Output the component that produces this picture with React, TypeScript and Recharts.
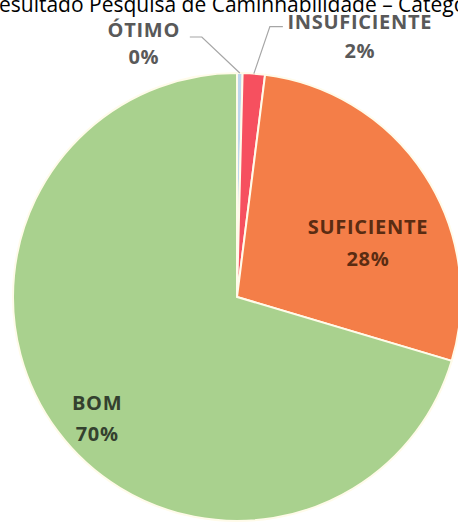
import React from 'react';
import { PieChart, Pie, Cell } from 'recharts';

// Survey result by category (share of answers, %)
const categories = ['ÓTIMO', 'INSUFICIENTE', 'SUFICIENTE', 'BOM'];
const shares = [0.4, 1.6, 27.6, 70.4];
const sliceColors = ['#BDD7EE', '#F6505F', '#F47E48', '#A9D18E'];

const title = 'Resultado Pesquisa de Caminhabilidade – Categoria';

const data = categories.map((name, i) => ({ name, value: shares[i] }));

const RAD = Math.PI / 180;
const FONT = '"Open Sans", sans-serif';

// label placement per slice: inside labels are polar tweaks, outside ones get a leader line
const labelLayout: any[] = [
  { inside: false, elbow: [-38, -36], run: -12, textDx: -46, lines: [0, 27], color: '#595959' },
  { inside: false, elbow: [16, -47], run: 13, textDx: 77, lines: [2, 31], color: '#595959' },
  { inside: true, shift: -10.3, radius: 0.634, lines: [-8, 24], color: '#5A2C12' },
  { inside: true, shift: 4.1, radius: 0.825, lines: [-8, 23], color: '#34412F' },
];

const renderLabel = (props: any) => {
  const { cx, cy, midAngle, outerRadius, percent, index, name } = props;
  const pct = `${Math.round(percent * 100)}%`;
  const l = labelLayout[index];
  const textProps = {
    textAnchor: 'middle' as const,
    fill: l.color,
    fontFamily: FONT,
    fontWeight: 700,
    fontSize: 20,
    letterSpacing: 0.7,
  };

  if (l.inside) {
    const a = (midAngle + l.shift) * RAD;
    const r = outerRadius * l.radius;
    const x = cx + r * Math.cos(-a);
    const y = cy + r * Math.sin(-a);
    return (
      <g>
        <text x={x} y={y + l.lines[0]} {...textProps}>{name}</text>
        <text x={x} y={y + l.lines[1]} {...textProps}>{pct}</text>
      </g>
    );
  }

  const ex = cx + outerRadius * Math.cos(-midAngle * RAD);
  const ey = cy + outerRadius * Math.sin(-midAngle * RAD);
  const bx = ex + l.elbow[0];
  const by = ey + l.elbow[1];
  const tx = bx + l.run;
  return (
    <g>
      <polyline
        points={`${ex},${ey} ${bx},${by} ${tx},${by}`}
        fill="none"
        stroke="#A6A6A6"
        strokeWidth={1.2}
      />
      <text x={tx + l.textDx} y={by + l.lines[0]} {...textProps}>{name}</text>
      <text x={tx + l.textDx} y={by + l.lines[1]} {...textProps}>{pct}</text>
    </g>
  );
};

export default function App() {
  return (
    <div
      style={{
        position: 'absolute',
        left: 0,
        top: 0,
        width: 458,
        height: 525,
        background: '#fff',
        overflow: 'hidden',
      }}
    >
      <PieChart width={458} height={525} margin={{ top: 0, right: 0, bottom: 0, left: 0 }}>
        <Pie
          data={data}
          dataKey="value"
          nameKey="name"
          cx={237}
          cy={297}
          outerRadius={224}
          startAngle={90}
          endAngle={-270}
          stroke="#FFFBEA"
          strokeWidth={2}
          label={renderLabel}
          labelLine={false}
          isAnimationActive={false}
        >
          {data.map((d, i) => (
            <Cell key={d.name} fill={sliceColors[i]} />
          ))}
        </Pie>
      </PieChart>
      <svg
        width={458}
        height={30}
        style={{ position: 'absolute', left: 0, top: 0 }}
      >
        <text x={-14} y={12} fontFamily={FONT} fontSize={21} fill="#000">
          {title}
        </text>
      </svg>
    </div>
  );
}
